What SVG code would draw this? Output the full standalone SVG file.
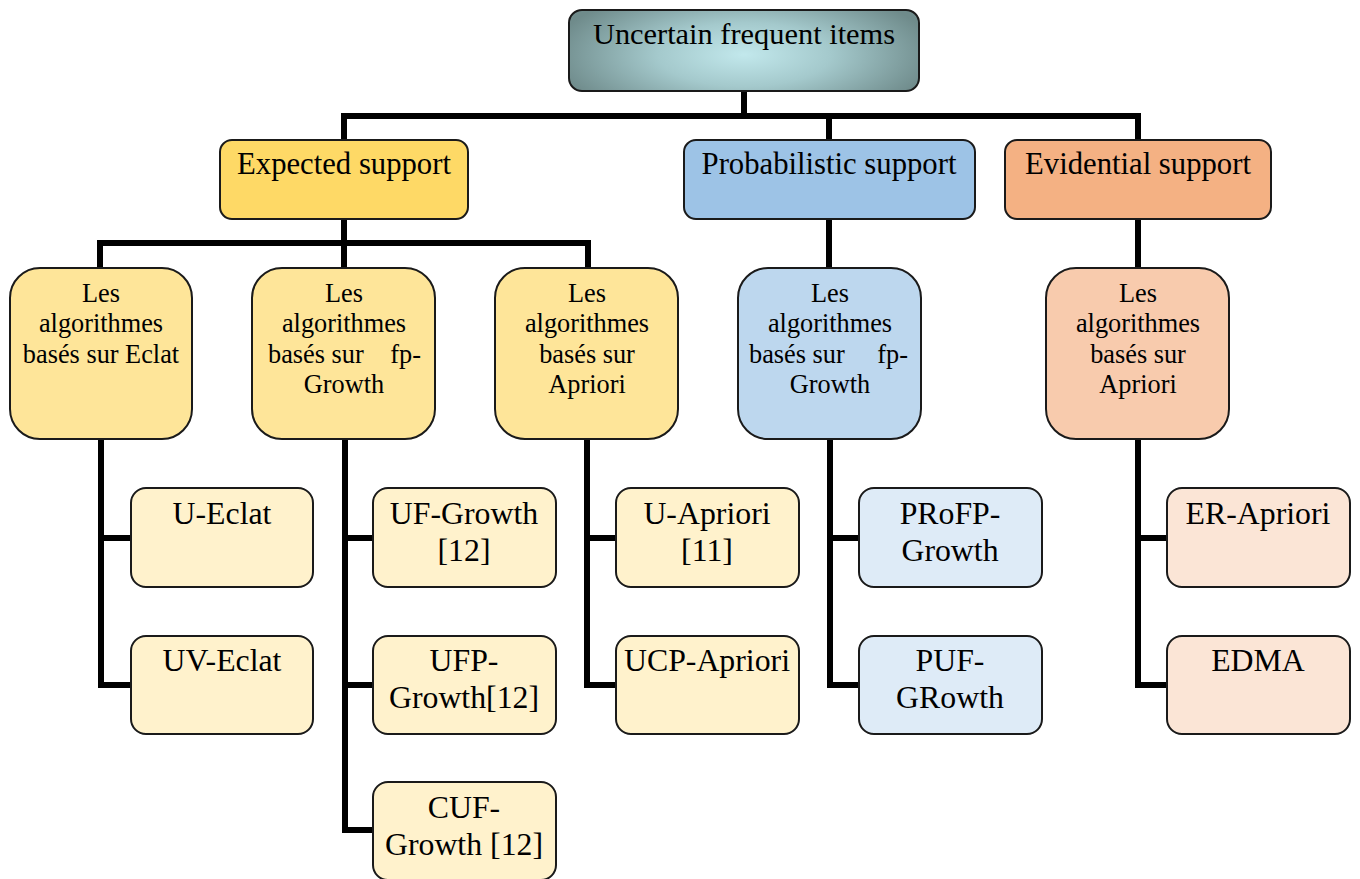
<svg xmlns="http://www.w3.org/2000/svg" width="1360" height="879" viewBox="0 0 1360 879">
  <style>
    text { font-family: "Liberation Serif", "Times New Roman", serif; fill: #000; text-anchor: middle; }
    .box { stroke: #1a1a1a; stroke-width: 2; }
    .t0 { font-size: 30.4px; }
    .t1 { font-size: 30.7px; }
    .t2 { font-size: 26.3px; }
    .t3 { font-size: 31.8px; }
    .link { fill: none; stroke: #000; stroke-width: 6; stroke-linejoin: miter; stroke-linecap: butt; }
    .exp1 { fill: #fed966; } .exp2 { fill: #fee599; } .exp3 { fill: #fff2cc; }
    .pro1 { fill: #9dc3e6; } .pro2 { fill: #bdd7ee; } .pro3 { fill: #deebf7; }
    .evi1 { fill: #f4b183; } .evi2 { fill: #f8cbad; } .evi3 { fill: #fbe5d6; }
  </style>
  <defs>
    <radialGradient id="rootFill" cx="50%" cy="55%" r="55%" fx="50%" fy="55%" gradientTransform="translate(0.5 0.55) scale(1 1.6) translate(-0.5 -0.55)">
      <stop offset="0" stop-color="#c2e8ec"/>
      <stop offset="0.45" stop-color="#a4c9cc"/>
      <stop offset="1" stop-color="#6f8b8b"/>
    </radialGradient>
  </defs>

  <!-- connectors -->
  <g id="connectors">
    <path class="link" d="M744 91 V116 M344 116 H1138 M344 113 V140 M829 116 V140 M1138 113 V140"/>
    <path class="link" d="M344 219 V243 M100 243 H588 M100 240 V268 M344 243 V268 M588 240 V268"/>
    <path class="link" d="M829 219 V268 M1138 219 V268"/>
    <path class="link" d="M101 440 V685 H131 M101 538 H131"/>
    <path class="link" d="M345 440 V830 H373 M345 538 H373 M345 685 H373"/>
    <path class="link" d="M587 440 V685 H616 M587 538 H616"/>
    <path class="link" d="M830 440 V685 H859 M830 538 H859"/>
    <path class="link" d="M1138 440 V685 H1167 M1138 538 H1167"/>
  </g>

  <!-- root -->
  <g id="root">
    <rect class="box" x="569" y="10" width="350" height="81" rx="13" fill="url(#rootFill)"/>
    <text class="t0" x="744" y="44">Uncertain frequent items</text>
  </g>

  <!-- level 1 -->
  <g id="expected">
    <rect class="box exp1" x="220" y="140" width="248" height="79" rx="12"/>
    <text class="t1" x="344" y="174">Expected support</text>
  </g>
  <g id="probabilistic">
    <rect class="box pro1" x="684" y="140" width="291" height="79" rx="12"/>
    <text class="t1" x="829" y="174">Probabilistic support</text>
  </g>
  <g id="evidential">
    <rect class="box evi1" x="1005" y="140" width="266" height="79" rx="12"/>
    <text class="t1" x="1138" y="174">Evidential support</text>
  </g>

  <!-- level 2 -->
  <g id="exp-eclat">
    <rect class="box exp2" x="10" y="268" width="182" height="171" rx="30"/>
    <text class="t2"><tspan x="101" y="302">Les</tspan><tspan x="101" y="332">algorithmes</tspan><tspan x="101" y="363">basés sur Eclat</tspan></text>
  </g>
  <g id="exp-fpgrowth">
    <rect class="box exp2" x="252" y="268" width="183" height="171" rx="30"/>
    <text class="t2"><tspan x="344" y="302">Les</tspan><tspan x="344" y="332">algorithmes</tspan><tspan x="268" y="363" text-anchor="start">basés sur</tspan><tspan x="421" y="363" text-anchor="end">fp-</tspan><tspan x="344" y="393">Growth</tspan></text>
  </g>
  <g id="exp-apriori">
    <rect class="box exp2" x="495" y="268" width="183" height="171" rx="30"/>
    <text class="t2"><tspan x="587" y="302">Les</tspan><tspan x="587" y="332">algorithmes</tspan><tspan x="587" y="363">basés sur</tspan><tspan x="587" y="393">Apriori</tspan></text>
  </g>
  <g id="pro-fpgrowth">
    <rect class="box pro2" x="738" y="268" width="183" height="171" rx="30"/>
    <text class="t2"><tspan x="830" y="302">Les</tspan><tspan x="830" y="332">algorithmes</tspan><tspan x="749" y="363" text-anchor="start">basés sur</tspan><tspan x="908" y="363" text-anchor="end">fp-</tspan><tspan x="830" y="393">Growth</tspan></text>
  </g>
  <g id="evi-apriori">
    <rect class="box evi2" x="1046" y="268" width="183" height="171" rx="30"/>
    <text class="t2"><tspan x="1138" y="302">Les</tspan><tspan x="1138" y="332">algorithmes</tspan><tspan x="1138" y="363">basés sur</tspan><tspan x="1138" y="393">Apriori</tspan></text>
  </g>

  <!-- level 3 -->
  <g id="u-eclat">
    <rect class="box exp3" x="131" y="488" width="182" height="99" rx="15"/>
    <text class="t3" x="222" y="524">U-Eclat</text>
  </g>
  <g id="uv-eclat">
    <rect class="box exp3" x="131" y="636" width="182" height="98" rx="15"/>
    <text class="t3" x="222" y="671">UV-Eclat</text>
  </g>
  <g id="uf-growth">
    <rect class="box exp3" x="373" y="488" width="183" height="99" rx="15"/>
    <text class="t3"><tspan x="464" y="524">UF-Growth</tspan><tspan x="464" y="561">[12]</tspan></text>
  </g>
  <g id="ufp-growth">
    <rect class="box exp3" x="373" y="636" width="183" height="98" rx="15"/>
    <text class="t3"><tspan x="464" y="671">UFP-</tspan><tspan x="464" y="708">Growth[12]</tspan></text>
  </g>
  <g id="cuf-growth">
    <rect class="box exp3" x="373" y="782" width="183" height="98" rx="15"/>
    <text class="t3"><tspan x="464" y="818">CUF-</tspan><tspan x="464" y="855">Growth [12]</tspan></text>
  </g>
  <g id="u-apriori">
    <rect class="box exp3" x="616" y="488" width="183" height="99" rx="15"/>
    <text class="t3"><tspan x="707" y="524">U-Apriori</tspan><tspan x="707" y="561">[11]</tspan></text>
  </g>
  <g id="ucp-apriori">
    <rect class="box exp3" x="616" y="636" width="183" height="98" rx="15"/>
    <text class="t3" x="707" y="671">UCP-Apriori</text>
  </g>
  <g id="profp-growth">
    <rect class="box pro3" x="859" y="488" width="183" height="99" rx="15"/>
    <text class="t3"><tspan x="950" y="524">PRoFP-</tspan><tspan x="950" y="561">Growth</tspan></text>
  </g>
  <g id="puf-growth">
    <rect class="box pro3" x="859" y="636" width="183" height="98" rx="15"/>
    <text class="t3"><tspan x="950" y="671">PUF-</tspan><tspan x="950" y="708">GRowth</tspan></text>
  </g>
  <g id="er-apriori">
    <rect class="box evi3" x="1167" y="488" width="183" height="99" rx="15"/>
    <text class="t3" x="1258" y="524">ER-Apriori</text>
  </g>
  <g id="edma">
    <rect class="box evi3" x="1167" y="636" width="183" height="98" rx="15"/>
    <text class="t3" x="1258" y="671">EDMA</text>
  </g>
</svg>
